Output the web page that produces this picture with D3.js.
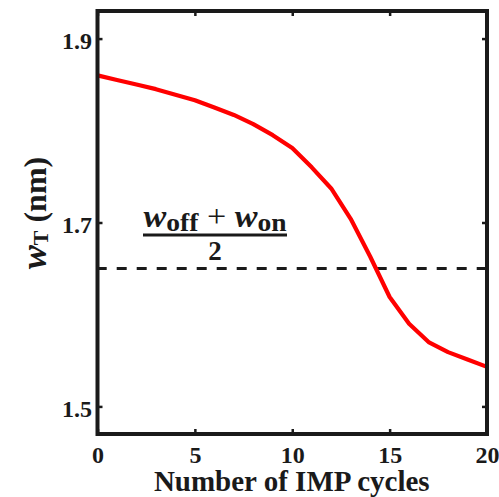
<!DOCTYPE html>
<html>
<head>
<meta charset="utf-8">
<script src="https://cdn.jsdelivr.net/npm/d3@7"></script>
<style>
  html, body { margin: 0; padding: 0; background: #fff; }
  svg { display: block; }
  text { font-family: "Liberation Serif", "Times New Roman", serif; }
</style>
</head>
<body>
<svg id="chart" width="499" height="497"></svg>
<script>
// Thickness w_T versus number of IMP cycles
const cycles = [0, 1, 2, 3, 4, 5, 6, 7, 8, 9, 10, 11, 12, 13, 14, 15, 16, 17, 18, 19, 20];
const wT = [1.860, 1.855, 1.850, 1.845, 1.839, 1.833, 1.825, 1.817, 1.807, 1.795,
            1.781, 1.760, 1.737, 1.704, 1.663, 1.619, 1.590, 1.570, 1.559, 1.551, 1.543];
const wMid = 1.65;               // (w_off + w_on) / 2
const xTicks = [0, 5, 10, 15, 20];
const yTicks = [1.5, 1.7, 1.9];
const yTickLabels = ["1.5", "1.7", "1.9"];
const xDomain = [0, 20];
const yDomain = [1.47, 1.93];

const svg = d3.select("#chart");
const L = 97.5, R = 487, T = 11, B = 434;
const ink = "#1a1a1a";

const x = d3.scaleLinear().domain(xDomain).range([L, R]);
const y = d3.scaleLinear().domain(yDomain).range([B, T]);

// dashed reference level
svg.append("line")
  .attr("x1", x(xDomain[0]) - 0.8).attr("x2", x(xDomain[1]))
  .attr("y1", y(wMid)).attr("y2", y(wMid))
  .attr("stroke", ink).attr("stroke-width", 3)
  .attr("stroke-dasharray", "10,10");

// data curve
const line = d3.line().x((d, i) => x(cycles[i])).y(d => y(d));
svg.append("path")
  .datum(wT)
  .attr("d", line)
  .attr("fill", "none")
  .attr("stroke", "#ff0000")
  .attr("stroke-width", 4.2)
  .attr("stroke-linejoin", "round");

// axes with inward ticks
const tickLen = -5;
const gB = svg.append("g").attr("transform", `translate(0,${B})`)
  .call(d3.axisBottom(x).tickValues(xTicks).tickSize(tickLen).tickPadding(12).tickFormat(d3.format("d")));
const gT = svg.append("g").attr("transform", `translate(0,${T})`)
  .call(d3.axisTop(x).tickValues(xTicks).tickSize(tickLen).tickFormat(""));
const gL = svg.append("g").attr("transform", `translate(${L},0)`)
  .call(d3.axisLeft(y).tickValues(yTicks).tickSize(tickLen).tickPadding(5.5)
    .tickFormat((d, i) => yTickLabels[i]));
const gR = svg.append("g").attr("transform", `translate(${R},0)`)
  .call(d3.axisRight(y).tickValues(yTicks).tickSize(tickLen).tickFormat(""));

[gB, gT, gL, gR].forEach(g => {
  g.select(".domain").remove();
  g.selectAll(".tick line").attr("stroke", ink).attr("stroke-width", 2.5);
});
gB.selectAll(".tick text")
  .attr("fill", ink).attr("font-size", 24).attr("font-weight", "bold")
  .attr("font-family", "Liberation Serif, Times New Roman, serif")
  .attr("y", 28.5).attr("dy", 0);
gL.selectAll(".tick text")
  .attr("fill", ink).attr("font-size", 24).attr("font-weight", "bold")
  .attr("font-family", "Liberation Serif, Times New Roman, serif")
  .attr("dy", 10);

// frame
svg.append("rect")
  .attr("x", L).attr("y", T).attr("width", R - L).attr("height", B - T)
  .attr("fill", "none").attr("stroke", ink).attr("stroke-width", 4);

// x axis title
svg.append("text")
  .attr("x", (L + R) / 2 - 0.5).attr("y", 491)
  .attr("text-anchor", "middle")
  .attr("font-size", 29).attr("font-weight", "bold").attr("fill", ink)
  .text("Number of IMP cycles");

// y axis title: w_T (nm)
const yt = svg.append("text")
  .attr("transform", "translate(46,213) rotate(-90)")
  .attr("text-anchor", "middle")
  .attr("font-weight", "bold").attr("fill", ink);
yt.append("tspan").attr("font-style", "italic").attr("font-size", 36).text("w");
yt.append("tspan").attr("font-size", 22).attr("dy", 2).text("T");
yt.append("tspan").attr("font-size", 32).attr("dy", -2).text("\u00a0(nm)");

// annotation: (w_off + w_on) / 2
const fx = 215;
const num = svg.append("text")
  .attr("x", fx).attr("y", 227)
  .attr("text-anchor", "middle")
  .attr("font-weight", "bold").attr("fill", ink)
  .attr("textLength", 143).attr("lengthAdjust", "spacingAndGlyphs");
num.append("tspan").attr("font-style", "italic").attr("font-size", 31).text("w");
num.append("tspan").attr("font-size", 25).attr("dy", 3.5).text("off");
num.append("tspan").attr("font-size", 31).attr("font-weight", "normal").attr("dy", -3.5).text("\u00a0+\u00a0");
num.append("tspan").attr("font-style", "italic").attr("font-size", 31).text("w");
num.append("tspan").attr("font-size", 25).attr("dy", 3.5).text("on");

svg.append("line")
  .attr("x1", 143).attr("x2", 287).attr("y1", 235).attr("y2", 235)
  .attr("stroke", ink).attr("stroke-width", 3);

svg.append("text")
  .attr("x", fx).attr("y", 260)
  .attr("text-anchor", "middle")
  .attr("font-size", 27).attr("font-weight", "bold").attr("fill", ink)
  .text("2");
</script>
</body>
</html>
